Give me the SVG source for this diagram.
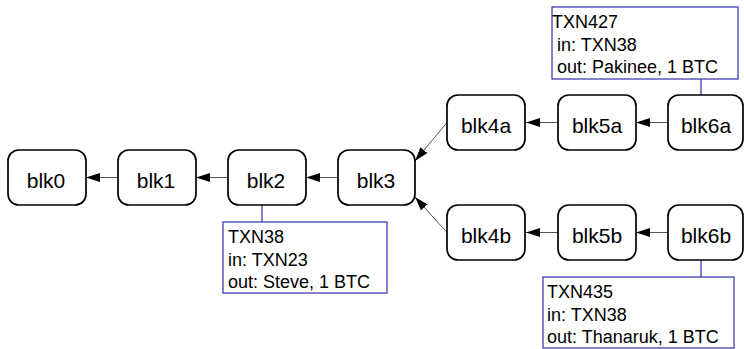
<svg xmlns="http://www.w3.org/2000/svg" width="744" height="349" viewBox="0 0 744 349">
  <style>
    .blk rect { fill: #fff; stroke: #000; stroke-width: 1.7; }
    .blk text { font-family: "Liberation Sans", Arial, sans-serif; font-size: 21px; fill: #000; text-anchor: middle; }
    .txn rect { fill: #fff; stroke: #3030a8; stroke-width: 1.2; }
    .txn text { font-family: "Liberation Sans", Arial, sans-serif; font-size: 18px; fill: #000; }
    .tie { stroke: #3030a8; stroke-width: 1.2; fill: none; }
    .edge { stroke: #555; stroke-width: 1; fill: none; marker-end: url(#head); }
  </style>
  <defs>
    <marker id="head" markerUnits="userSpaceOnUse" markerWidth="15" markerHeight="10" refX="14" refY="5" orient="auto">
      <path d="M0,0.5 L14,5 L0,9.5 Z" fill="#000"/>
    </marker>
  </defs>
  <rect width="744" height="349" fill="#fff"/>

  <!-- block chain links: each block points to its parent -->
  <g id="connectors">
    <line class="edge" x1="118" y1="177.5" x2="86" y2="177.5"/>
    <line class="edge" x1="228" y1="177.5" x2="196" y2="177.5"/>
    <line class="edge" x1="338" y1="177.5" x2="306" y2="177.5"/>
    <line class="edge" x1="447" y1="122.5" x2="415" y2="161"/>
    <line class="edge" x1="447" y1="232.5" x2="415" y2="197"/>
    <line class="edge" x1="558" y1="122.5" x2="526" y2="122.5"/>
    <line class="edge" x1="668" y1="122.5" x2="636" y2="122.5"/>
    <line class="edge" x1="558" y1="232.5" x2="526" y2="232.5"/>
    <line class="edge" x1="668" y1="232.5" x2="636" y2="232.5"/>
    <!-- ties from blocks to their transaction notes -->
    <line class="tie" x1="262" y1="205" x2="262" y2="222"/>
    <line class="tie" x1="701" y1="79" x2="701" y2="95"/>
    <line class="tie" x1="701" y1="260" x2="701" y2="277"/>
  </g>

  <g id="blk0" class="blk"><rect x="8" y="150" width="78" height="55" rx="11"/><text x="46" y="188">blk0</text></g>
  <g id="blk1" class="blk"><rect x="118" y="150" width="78" height="55" rx="11"/><text x="156" y="188">blk1</text></g>
  <g id="blk2" class="blk"><rect x="228" y="150" width="78" height="55" rx="11"/><text x="266" y="188">blk2</text></g>
  <g id="blk3" class="blk"><rect x="338" y="150" width="77" height="55" rx="11"/><text x="376" y="188">blk3</text></g>
  <g id="blk4a" class="blk"><rect x="447" y="95" width="78" height="55" rx="11"/><text x="486" y="133">blk4a</text></g>
  <g id="blk5a" class="blk"><rect x="558" y="95" width="78" height="55" rx="11"/><text x="597" y="133">blk5a</text></g>
  <g id="blk6a" class="blk"><rect x="668" y="95" width="75" height="55" rx="11"/><text x="706" y="133">blk6a</text></g>
  <g id="blk4b" class="blk"><rect x="447" y="205" width="78" height="55" rx="11"/><text x="486" y="243">blk4b</text></g>
  <g id="blk5b" class="blk"><rect x="558" y="205" width="78" height="55" rx="11"/><text x="597" y="243">blk5b</text></g>
  <g id="blk6b" class="blk"><rect x="668" y="205" width="75" height="55" rx="11"/><text x="706" y="243">blk6b</text></g>

  <g id="txn38" class="txn">
    <rect x="223" y="222" width="164" height="71"/>
    <text x="228" y="243">TXN38</text>
    <text x="228" y="266">in: TXN23</text>
    <text x="228" y="288">out: Steve, 1 BTC</text>
  </g>
  <g id="txn427" class="txn">
    <rect x="552" y="7" width="186" height="72"/>
    <text x="552" y="28">TXN427</text>
    <text x="557" y="51">in: TXN38</text>
    <text x="557" y="73">out: Pakinee, 1 BTC</text>
  </g>
  <g id="txn435" class="txn">
    <rect x="543" y="277" width="191" height="71"/>
    <text x="547" y="298">TXN435</text>
    <text x="547" y="321">in: TXN38</text>
    <text x="547" y="343">out: Thanaruk, 1 BTC</text>
  </g>
</svg>
